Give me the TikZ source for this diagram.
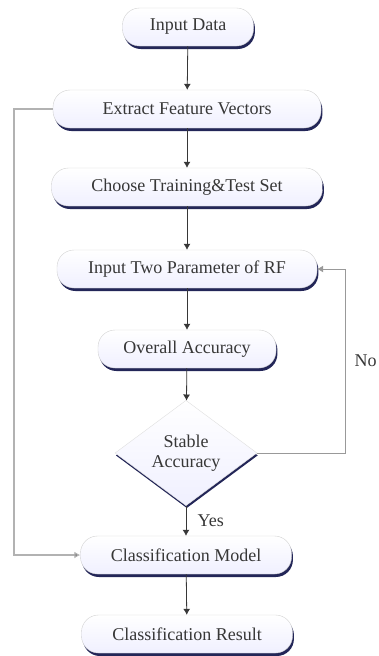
\documentclass[tikz,border=0pt]{standalone}
\usepackage{fontspec}
\setmainfont{Liberation Serif}
\usetikzlibrary{shapes.geometric, shadows, arrows.meta}
\definecolor{shade}{RGB}{35,38,88}
\definecolor{ink}{RGB}{55,55,55}
\tikzstyle{process}=[rectangle, rounded corners=17pt, draw=gray!35, top color=white, bottom color=blue!6, text=ink, minimum height=38, inner sep=0pt, font=\fontsize{18}{20}\selectfont, drop shadow={shadow xshift=1.4pt, shadow yshift=-3pt, fill=shade, opacity=1}]
\tikzstyle{test}=[diamond, draw=gray!25, top color=white, bottom color=blue!6, text=ink, minimum width=142, minimum height=88, inner sep=0pt, align=center, font=\fontsize{18}{20}\selectfont, drop shadow={shadow xshift=0.8pt, shadow yshift=-2.4pt, fill=shade, opacity=1}]
\tikzstyle{flow}=[draw=ink, line width=0.8pt, -{Latex[length=6pt, width=7pt]}]

\begin{document}
\begin{tikzpicture}[x=1pt, y=-1pt]
                    \useasboundingbox (0, 0) rectangle (379, 656);
                    \node[process, minimum width=131] (start)   at (188,  27) {Input Data};
                    \node[process, minimum width=268] (extract) at (187, 109) {Extract Feature Vectors};
                    \node[process, minimum width=271] (choose)  at (187, 187) {Choose Training\&Test Set};
                    \node[process, minimum width=260] (param)   at (187, 269) {Input Two Parameter of RF};
                    \node[process, minimum width=178] (overall) at (187, 349) {Overall Accuracy};
                    \node[test]                       (stable)  at (186, 453) {Stable\\Accuracy};
                    \node[process, minimum width=211] (model)   at (186, 555) {Classification Model};
                    \node[process, minimum width=211] (result)  at (187, 634) {Classification Result};
                    \coordinate (loopL) at ( 14, 109);
                    \coordinate (loopR) at (345, 453);
                    \draw[flow]  (start)--(extract);
                    \draw[flow]  (extract)--(choose);
                    \draw[flow]  (choose)--(param);
                    \draw[flow]  (param)--(overall);
                    \draw[flow]  (overall)--(stable);
                    \draw[flow]  (stable) -- node[right=8pt, text=ink, font=\fontsize{18}{20}\selectfont] {Yes} (model);
                    \draw[flow]  (model)--(result);
                    \draw[flow, draw=gray!80, line width=0.7pt]  (stable.east) -- (loopR) |- node[pos=0.25, right=6pt, text=ink, font=\fontsize{18}{20}\selectfont] {No} (param.east);
                    \draw[flow, draw=gray!60, line width=1.6pt, -{Latex[length=6pt, width=7pt, fill=ink]}]  (extract.west) -- (loopL) |- (model.west);
                \end{tikzpicture}
\end{document}
